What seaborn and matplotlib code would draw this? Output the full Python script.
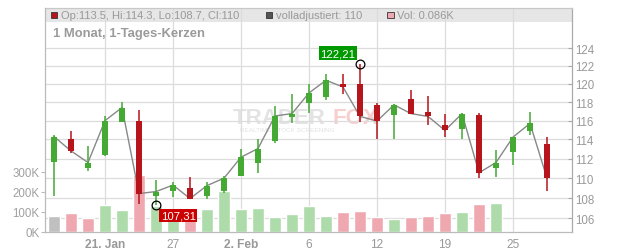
import numpy as np
import pandas as pd
import matplotlib
matplotlib.use("Agg")
import matplotlib.pyplot as plt
import seaborn as sns
from matplotlib.patches import Rectangle
from matplotlib.ticker import NullLocator

# ---------------- data ----------------
dates = ["15.01", "16.01", "20.01", "21.01", "22.01", "23.01", "26.01", "27.01", "28.01", "29.01",
         "30.01", "02.02", "03.02", "04.02", "05.02", "06.02", "09.02", "10.02", "11.02", "12.02",
         "13.02", "17.02", "18.02", "19.02", "20.02", "23.02", "24.02", "25.02", "26.02", "27.02"]
opens = [111.7, 114.0, 111.0, 112.4, 115.9, 116.0, 108.2, 108.75, 109.0, 108.25,
         108.75, 110.25, 111.6, 113.85, 116.35, 117.85, 118.6, 120.0, 120.0, 117.7,
         116.55, 118.35, 116.95, 115.5, 115.1, 116.55, 111.0, 112.65, 114.9, 113.5]
highs = [114.5, 114.9, 113.3, 116.5, 118.0, 117.1, 109.8, 109.65, 110.1, 109.6,
         110.25, 112.95, 114.1, 117.6, 118.9, 120.0, 121.05, 121.15, 122.21, 117.9,
         117.8, 119.35, 118.7, 116.75, 116.85, 116.85, 112.85, 114.3, 116.9, 114.3]
lows = [108.2, 112.6, 110.7, 112.3, 115.8, 107.4, 107.31, 108.15, 107.9, 107.95,
        108.5, 110.2, 110.5, 113.6, 115.75, 116.8, 118.25, 118.9, 115.8, 114.1,
        114.1, 116.7, 115.5, 114.25, 114.0, 110.0, 110.15, 111.35, 114.45, 108.7]
closes = [114.3, 112.8, 111.6, 116.0, 117.4, 108.45, 108.65, 109.3, 107.95, 109.25,
          110.0, 112.15, 113.05, 116.5, 116.75, 119.0, 120.4, 119.65, 116.45, 115.95,
          117.7, 116.75, 116.45, 114.95, 116.75, 110.55, 111.6, 114.25, 115.7, 110.0]
volumes_k = [80, 94, 70, 134, 109, 283, 131, 105, 95, 114,
             202, 114, 119, 76, 91, 131, 81, 101, 106, 76,
             66, 76, 81, 96, 101, 141, 146, 0.12, 0.10, 0.086]

tick_pos = [3, 7, 11, 15, 19, 23, 27]
tick_labels = ["21. Jan", "27", "2. Feb", "6", "12", "19", "25"]
price_ticks = [106, 108, 110, 112, 114, 116, 118, 120, 122, 124]
vol_ticks = [0, 100, 200, 300]
vol_tick_labels = ["0K", "100K", "200K", "300K"]

title = "1 Monat, 1-Tages-Kerzen"
head_ohlc = "Op:113.5, Hi:114.3, Lo:108.7, Cl:110"
head_adj = "volladjustiert: 110"
head_vol = "Vol: 0.086K"
high_label = "122,21"
low_label = "107,31"

# ---------------- style ----------------
sns.set_theme(style="white")
plt.rcParams["font.family"] = ["Liberation Sans", "DejaVu Sans"]

GREEN = "#44aa33"
RED = "#b5151b"
VOL_GREEN = "#addcaa"
VOL_RED = "#f0a8b0"
VOL_GREY = "#c0c0c0"
TXT = "#999999"

W, H = 632, 253
def fx(px):
    return px / W
def fy(py):
    return 1 - py / H

n = len(dates)
idx = np.arange(n)
o = np.array(opens); c = np.array(closes)
hi = np.array(highs); lo = np.array(lows)

direction = ["first"] + ["up" if closes[i] >= closes[i - 1] else "down" for i in range(1, n)]
df = pd.DataFrame({"idx": idx, "vol": volumes_k, "dir": direction, "close": closes})

fig = plt.figure(figsize=(6.32, 2.53), dpi=100)
rect = [fx(45), fy(233), (572 - 45) / W, (233 - 9) / H]
ax_grid = fig.add_axes(rect)
ax_vol = fig.add_axes(rect)
ax_p = fig.add_axes(rect)

xlim = (-0.53, 30.47)
plim = (104.67, 128.70)

# ---- grid axes (price scale, right ticks) ----
ax_grid.set_yscale("log")
ax_grid.set_ylim(*plim)
ax_grid.set_xlim(*xlim)
ax_grid.yaxis.tick_right()
ax_grid.set_yticks(price_ticks)
ax_grid.set_yticklabels([str(t) for t in price_ticks])
ax_grid.yaxis.set_minor_locator(NullLocator())
ax_grid.set_xticks(tick_pos)
ax_grid.set_xticklabels(tick_labels)
ax_grid.tick_params(axis="y", which="major", direction="in", length=3, width=0.8,
                    color="#aaaaaa", labelcolor=TXT, labelsize=8.3, pad=2.5,
                    right=True, left=False, labelright=True, labelleft=False)
ax_grid.tick_params(axis="x", direction="out", length=3, width=0.8, color="#bbbbbb",
                    labelcolor=TXT, labelsize=8.6, pad=1.5)
for lbl in ax_grid.get_xticklabels():
    if "." in lbl.get_text():
        lbl.set_fontweight("bold")
ax_grid.grid(True, color="#dcdcdc", linewidth=0.9)
ax_grid.set_axisbelow(True)
for s in ["left", "bottom"]:
    ax_grid.spines[s].set_visible(False)
ax_grid.spines["top"].set_color("#c8c8c8")
ax_grid.spines["right"].set_color("#aaaaaa")
for s in ["top", "right"]:
    ax_grid.spines[s].set_linewidth(0.9)

band_bottom = (233 - 22.7) / 224
ax_grid.add_patch(Rectangle((0, band_bottom), 1, 1 - band_bottom, transform=ax_grid.transAxes,
                            facecolor="#e6e6e6", edgecolor="none", zorder=0.2, clip_on=False))

# watermark
ax_grid.text(fx(233), fy(124), "TRADER", transform=fig.transFigure, fontsize=16,
             fontweight="bold", color="#e3e3e3", ha="left", va="baseline", zorder=0.3)
ax_grid.text(fx(333), fy(124), "FOX", transform=fig.transFigure, fontsize=16,
             fontweight="bold", color="#f7cfcf", ha="left", va="baseline", zorder=0.3)
ax_grid.text(fx(240), fy(130), "REALTIME STOCK SCREENING", transform=fig.transFigure,
             fontsize=4.6, color="#e2e2e2", ha="left", va="center", zorder=0.3)

# ---- volume axes ----
ax_vol.patch.set_visible(False)
sns.barplot(data=df, x="idx", y="vol", hue="dir",
            palette={"first": VOL_GREY, "up": VOL_GREEN, "down": VOL_RED},
            dodge=False, width=0.7, saturation=1, errorbar=None, legend=False, ax=ax_vol)
ax_vol.set_xlim(*xlim)
ax_vol.set_ylim(0, 1114)
ax_vol.set_xlabel(""); ax_vol.set_ylabel("")
ax_vol.set_yticks(vol_ticks)
ax_vol.set_yticklabels(vol_tick_labels)
ax_vol.tick_params(axis="y", direction="out", length=3, width=0.8, color="#bbbbbb",
                   labelcolor="#a0a0a0", labelsize=8.3, pad=1, left=True)
ax_vol.tick_params(axis="x", bottom=False, labelbottom=False)
for s in ["top", "right"]:
    ax_vol.spines[s].set_visible(False)
for s in ["left", "bottom"]:
    ax_vol.spines[s].set_color("#bbbbbb")
    ax_vol.spines[s].set_linewidth(0.9)
ax_vol.grid(False)

# ---- price axes (candles) ----
ax_p.patch.set_visible(False)
ax_p.set_yscale("log")
sns.lineplot(x=idx, y=closes, ax=ax_p, color="#888888", linewidth=1.0, zorder=2)
cols = [GREEN if c[i] >= o[i] else RED for i in range(n)]
ax_p.vlines(idx, lo, hi, colors=cols, linewidth=1.1, zorder=3)
ax_p.bar(idx, np.abs(c - o), bottom=np.minimum(o, c), width=0.41, color=cols,
         edgecolor="none", zorder=4)
imax = int(np.argmax(hi)); imin = int(np.argmin(lo))
ax_p.plot([imax, imin], [hi[imax], lo[imin]], "o", mfc="none", mec="black",
          ms=6.3, mew=0.9, zorder=5)
ax_p.annotate(high_label, xy=(imax, hi[imax]), xytext=(-3.4, 4.3), textcoords="offset points",
              ha="right", va="bottom", fontsize=8.2, color="white", zorder=6,
              bbox=dict(boxstyle="square,pad=0.15", fc="#009900", ec="none"))
ax_p.annotate(low_label, xy=(imin, lo[imin]), xytext=(3.4, -4.0), textcoords="offset points",
              ha="left", va="top", fontsize=8.2, color="white", zorder=6,
              bbox=dict(boxstyle="square,pad=0.15", fc="#cc0000", ec="none"))
ax_p.set_xlim(*xlim)
ax_p.set_ylim(*plim)
ax_p.set_xticks([]); ax_p.set_yticks([])
ax_p.yaxis.set_minor_locator(NullLocator())
ax_p.tick_params(which="both", left=False, bottom=False, labelleft=False, labelbottom=False)
ax_p.set_xlabel(""); ax_p.set_ylabel("")
for s in ax_p.spines.values():
    s.set_visible(False)

# ---- header legend & title ----
def square(px, color):
    fig.add_artist(Rectangle((fx(px), fy(19.3)), 6.7 / W, 6.7 / H, transform=fig.transFigure,
                             facecolor=color, edgecolor="#333333", linewidth=0.6))

square(50.5, RED)
fig.text(fx(61), fy(15.8), head_ohlc, fontsize=8, color=TXT, va="center", ha="left")
square(265.7, "#555555")
fig.text(fx(276.5), fy(15.8), head_adj, fontsize=8, color=TXT, va="center", ha="left")
square(387.3, VOL_RED)
fig.text(fx(397.3), fy(15.8), head_vol, fontsize=8, color=TXT, va="center", ha="left")

fig.text(fx(53), fy(33.5), title, fontsize=9.4, fontweight="bold", color="#9a9a9a",
         va="center", ha="left")

fig.savefig("out.png", dpi=100)
